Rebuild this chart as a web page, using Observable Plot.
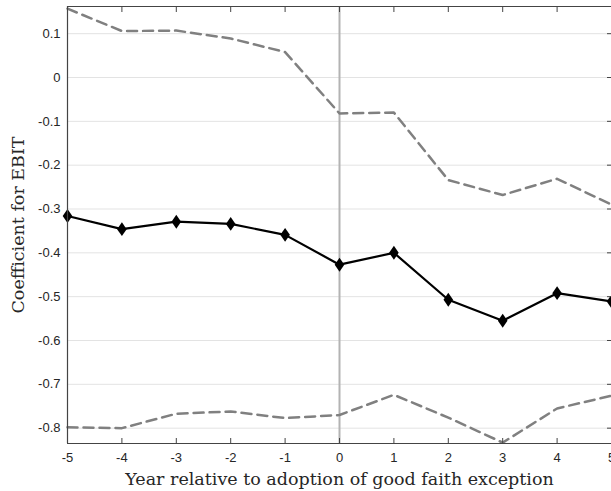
<!DOCTYPE html>
<html>
<head>
<meta charset="utf-8">
<script src="https://cdn.jsdelivr.net/npm/d3@7"></script>
<script src="https://cdn.jsdelivr.net/npm/@observablehq/plot@0.6"></script>
<style>
  html, body { margin: 0; padding: 0; background: #fff; }
  #chart svg { display: block; }
</style>
</head>
<body>
<div id="chart"></div>
<script>
const years = [-5, -4, -3, -2, -1, 0, 1, 2, 3, 4, 5];
const coef  = [-0.316, -0.346, -0.329, -0.334, -0.359, -0.427, -0.400, -0.507, -0.555, -0.492, -0.511];
const upper = [0.157, 0.106, 0.107, 0.089, 0.058, -0.082, -0.080, -0.234, -0.268, -0.231, -0.290];
const lower = [-0.798, -0.800, -0.767, -0.762, -0.777, -0.770, -0.724, -0.776, -0.833, -0.755, -0.726];
const yTicks = [-0.8, -0.7, -0.6, -0.5, -0.4, -0.3, -0.2, -0.1, 0, 0.1];
const yTickLabels = ["-0.8", "-0.7", "-0.6", "-0.5", "-0.4", "-0.3", "-0.2", "-0.1", "0", "0.1"];
const xTicks = years;
const xTickLabels = ["-5", "-4", "-3", "-2", "-1", "0", "1", "2", "3", "4", "5"];
const xDomain = [-5, 5];
const yDomain = [-0.835, 0.162];
const xLabel = "Year relative to adoption of good faith exception";
const yLabel = "Coefficient for EBIT";

const rows = years.map((y, i) => ({year: y, coef: coef[i], upper: upper[i], lower: lower[i]}));

const tallDiamond = {
  draw(ctx, size) {
    const w = Math.sqrt(size / Math.PI);
    const h = w * 1.45;
    ctx.moveTo(0, -h); ctx.lineTo(w, 0); ctx.lineTo(0, h); ctx.lineTo(-w, 0); ctx.closePath();
  }
};

const axisColor = "#444444";
const textColor = "#262626";

const chart = Plot.plot({
  width: 611,
  height: 491,
  marginLeft: 67,
  marginRight: 0,
  marginTop: 6,
  marginBottom: 48,
  style: {background: "#fff", fontFamily: "'Liberation Sans', Arial, sans-serif"},
  x: {domain: xDomain},
  y: {domain: yDomain},
  marks: [
    Plot.ruleY(yTicks, {stroke: "#e3e3e3", strokeWidth: 1}),
    Plot.ruleX([0], {stroke: "#b3b3b3", strokeWidth: 2}),
    Plot.line(rows, {x: "year", y: "upper", stroke: "#808080", strokeWidth: 2.5, strokeDasharray: "10,6"}),
    Plot.line(rows, {x: "year", y: "lower", stroke: "#808080", strokeWidth: 2.5, strokeDasharray: "10,6"}),
    Plot.line(rows, {x: "year", y: "coef", stroke: "#000", strokeWidth: 2.2}),
    Plot.dot(rows, {x: "year", y: "coef", symbol: tallDiamond, r: 4.8, fill: "#000", stroke: "none"}),
    // spines
    Plot.ruleX([xDomain[0]], {stroke: axisColor, strokeWidth: 1.2}),
    Plot.ruleY([yDomain[0]], {stroke: axisColor, strokeWidth: 1.2}),
    Plot.ruleY([yDomain[1]], {stroke: axisColor, strokeWidth: 1.2}),
    // axes
    Plot.axisY({anchor: "left", ticks: yTicks, tickFormat: (d) => yTickLabels[yTicks.indexOf(d)], tickSize: 0, tickPadding: 7, fontSize: 13, fill: textColor, label: null}),
    Plot.axisY({anchor: "right", ticks: yTicks, tickSize: -5, text: null, stroke: axisColor, label: null}),
    Plot.axisX({anchor: "bottom", ticks: xTicks, tickFormat: d => xTickLabels[xTicks.indexOf(d)], tickSize: 0, tickPadding: 9, fontSize: 13, fill: textColor, label: null}),
    Plot.axisX({anchor: "bottom", ticks: xTicks, tickSize: -5, text: null, stroke: axisColor, label: null}),
    Plot.axisX({anchor: "top", ticks: xTicks, tickSize: -5, text: null, stroke: axisColor, label: null}),
    // axis titles
    Plot.text([xLabel], {frameAnchor: "bottom", text: d => d, textAnchor: "middle", lineAnchor: "bottom", dy: 41, fontSize: 17.5, fontFamily: "'DejaVu Serif', serif", fill: textColor}),
    Plot.text([yLabel], {frameAnchor: "left", text: d => d, textAnchor: "middle", lineAnchor: "bottom", rotate: -90, dx: -44, fontSize: 17.5, fontFamily: "'DejaVu Serif', serif", fill: textColor})
  ]
});
document.getElementById("chart").appendChild(chart);
</script>
</body>
</html>
